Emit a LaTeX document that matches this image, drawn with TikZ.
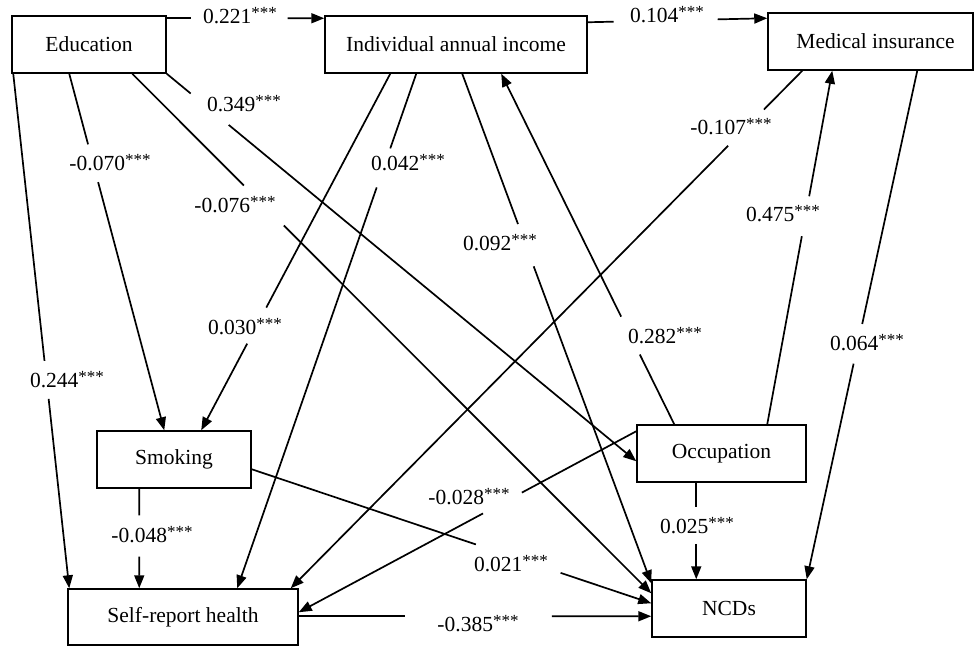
\documentclass[tikz,border=0pt]{standalone}
\usepackage{fontspec}
\setmainfont{Liberation Serif}
\usetikzlibrary{calc,arrows.meta}
\newcommand\gapline[4]{%
  \draw[conn] (#1) -- ($(#1)!#3!(#2)$);
  \draw[conn,tipped] ($(#1)!#4!(#2)$) -- (#2);}
\newcommand\stars{\raisebox{5pt}{\fontsize{17}{17}\selectfont ***}}
\begin{document}
\begin{tikzpicture}[x=1pt,y=-1pt,
  box/.style={draw,line width=1.5pt,inner sep=0pt,minimum height=57pt,font=\fontsize{21.5}{25}\selectfont},
  conn/.style={line width=1.7pt},
  tipped/.style={-{Triangle[length=13pt,width=10pt]}},
  lab/.style={inner sep=0pt,font=\fontsize{21.5}{25}\selectfont}]
\useasboundingbox (0,0) rectangle (974,646);
% boxes
\node[box,minimum width=154pt] (edu) at (89,44.5) {Education};
\node[box,minimum width=262pt] (inc) at (456,44.5) {Individual annual income};
\node[box,minimum width=205pt] (med) at (870.5,41.5) {\hspace*{10pt}Medical insurance};
\node[box,minimum width=154pt] (smk) at (174,459.5) {Smoking};
\node[box,minimum width=230pt,minimum height=56pt] (srh) at (183,617) {Self-report health};
\node[box,minimum width=169pt] (occ) at (721.5,453.5) {Occupation};
\node[box,minimum width=154pt] (ncd) at (729,608.5) {NCDs};
% end points on the boxes
\coordinate (s1) at ([yshift=-3pt]edu.north east);
\coordinate (e1) at ([yshift=-3pt]inc.north west);
\coordinate (s2) at ([yshift=-7pt]inc.north east);
\coordinate (e2) at ([yshift=-6pt]med.north west);
\coordinate (s3) at ([xshift=2pt]edu.south west);
\coordinate (e3) at ([xshift=2pt]srh.north west);
\coordinate (s4) at ([xshift=58pt]edu.south west);
\coordinate (e4) at ([xshift=68pt]smk.north west);
\coordinate (s5) at ([xshift=121pt]edu.south west);
\coordinate (e5) at ([yshift=-14pt]ncd.north west);
\coordinate (s6) at (edu.south east);
\coordinate (e6) at ([yshift=-37pt]occ.north west);
\coordinate (s7) at ([xshift=66pt]inc.south west);
\coordinate (e7) at ([xshift=105pt]smk.north west);
\coordinate (s8) at ([xshift=92pt]inc.south west);
\coordinate (e8) at ([xshift=170pt]srh.north west);
\coordinate (s9) at ([xshift=138pt]inc.south west);
\coordinate (e9) at ([yshift=-4pt]ncd.north west);
\coordinate (s10) at ([xshift=38pt]occ.north west);
\coordinate (e10) at ([xshift=177pt]inc.south west);
\coordinate (s11) at ([xshift=131pt]occ.north west);
\coordinate (e11) at ([xshift=65pt]med.south west);
\coordinate (s12) at ([xshift=150pt]med.south west);
\coordinate (e12) at (ncd.north east);
\coordinate (s13) at ([xshift=35pt]med.south west);
\coordinate (e13) at ([xshift=-8pt]srh.north east);
\coordinate (s14) at ([yshift=-7pt]occ.north west);
\coordinate (e14) at ([yshift=-24pt]srh.north east);
\coordinate (s15) at ([xshift=43pt]smk.south west);
\coordinate (e15) at ([xshift=72pt]srh.north west);
\coordinate (s16) at ([yshift=-39pt]smk.north east);
\coordinate (e16) at ([yshift=-24pt]ncd.north west);
\coordinate (s17) at ([yshift=-28pt]srh.north east);
\coordinate (e17) at ([yshift=-37pt]ncd.north west);
\coordinate (s18) at ([xshift=60pt]occ.south west);
\coordinate (e18) at ([xshift=45pt]ncd.north west);
% connectors with gaps for the labels
\gapline{s1}{e1}{0.151}{0.767}
\gapline{s2}{e2}{0.144}{0.724}
\gapline{s3}{e3}{0.558}{0.632}
\gapline{s4}{e4}{0.198}{0.304}
\gapline{s5}{e5}{0.215}{0.292}
\gapline{s6}{e6}{0.051}{0.132}
\gapline{s7}{e7}{0.656}{0.757}
\gapline{s8}{e8}{0.145}{0.221}
\gapline{s9}{e9}{0.295}{0.378}
\gapline{s10}{e10}{0.199}{0.307}
\gapline{s11}{e11}{0.532}{0.645}
\gapline{s12}{e12}{0.498}{0.576}
\gapline{s13}{e13}{0.075}{0.145}
\gapline{s14}{e14}{0.339}{0.454}
\gapline{s15}{e15}{0.267}{0.683}
\gapline{s16}{e16}{0.561}{0.773}
\gapline{s17}{e17}{0.302}{0.718}
\gapline{s18}{e18}{0.255}{0.633}
% labels
\node[lab] (l1) at (240,16) {0.221\stars};
\node[lab] (l2) at (667,15) {0.104\stars};
\node[lab] (l3) at (67,380) {0.244\stars};
\node[lab] (l4) at (110,163) {-0.070\stars};
\node[lab] (l5) at (235,205) {-0.076\stars};
\node[lab] (l6) at (244,104) {0.349\stars};
\node[lab] (l7) at (245,327) {0.030\stars};
\node[lab] (l8) at (408,163) {0.042\stars};
\node[lab] (l9) at (500,243) {0.092\stars};
\node[lab] (l10) at (665,336) {0.282\stars};
\node[lab] (l11) at (783,214) {0.475\stars};
\node[lab] (l12) at (867,343) {0.064\stars};
\node[lab] (l13) at (731,127) {-0.107\stars};
\node[lab] (l14) at (469,497) {-0.028\stars};
\node[lab] (l15) at (152,535) {-0.048\stars};
\node[lab] (l16) at (511,564) {0.021\stars};
\node[lab] (l17) at (478,624) {-0.385\stars};
\node[lab] (l18) at (697,526) {0.025\stars};
\end{tikzpicture}
\end{document}
